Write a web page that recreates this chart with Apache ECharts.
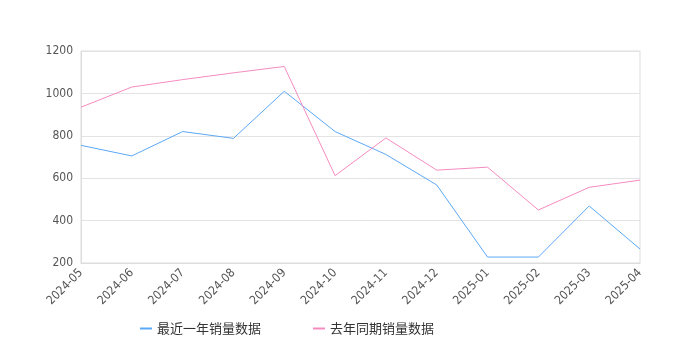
<!DOCTYPE html>
<html>
<head>
<meta charset="utf-8">
<script src="https://cdn.jsdelivr.net/npm/echarts@6/dist/echarts.min.js"></script>
<style>
  html, body { margin: 0; padding: 0; background: #fff; }
  #main { width: 680px; height: 350px; }
</style>
</head>
<body>
<div id="main"></div>
<script>
// 月份
var months = ['2024-05', '2024-06', '2024-07', '2024-08', '2024-09', '2024-10',
	'2024-11', '2024-12', '2025-01', '2025-02', '2025-03', '2025-04'];
// 最近一年销量
var recentSales = [755, 705, 820, 788, 1010, 820, 712, 568, 228, 228, 469, 266];
// 去年同期销量
var lastYearSales = [935, 1030, 1065, 1097, 1127, 612, 790, 638, 652, 450, 557, 591];

var myChart = echarts.init(document.getElementById('main'));
var option;

option = {
	animation: false,
	color: ['#5ba8f7', '#f58bbf'],
	grid: {
		left: 81,
		right: 40,
		top: 51,
		bottom: 87,
		show: true,
		borderColor: '#ddd',
		borderWidth: 1
	},
	legend: {
		bottom: 10,
		left: 135,
		itemGap: 52,
		itemWidth: 12,
		itemHeight: 2,
		icon: 'rect',
		textStyle: {
			color: '#333',
			fontSize: 13,
			fontFamily: 'Noto Sans CJK SC'
		},
		data: ['最近一年销量数据', '去年同期销量数据']
	},
	xAxis: {
		type: 'category',
		boundaryGap: false,
		data: months,
		axisLine: { lineStyle: { color: '#ddd' } },
		axisTick: { show: false },
		axisLabel: {
			rotate: 45,
			color: '#555',
			fontSize: 12,
			fontFamily: 'DejaVu Sans Condensed',
			margin: 8,
			interval: 0
		}
	},
	yAxis: {
		type: 'value',
		min: 200,
		max: 1200,
		interval: 200,
		axisLine: { show: true, lineStyle: { color: '#ddd' } },
		axisTick: { show: false },
		splitLine: { lineStyle: { color: '#e3e3e3' } },
		axisLabel: {
			color: '#555',
			fontSize: 12,
			fontFamily: 'DejaVu Sans Condensed',
			formatter: function (v) { return String(v); }
		}
	},
	series: [
		{
			name: '最近一年销量数据',
			type: 'line',
			data: recentSales,
			symbol: 'none',
			lineStyle: { width: 1 }
		},
		{
			name: '去年同期销量数据',
			type: 'line',
			data: lastYearSales,
			symbol: 'none',
			lineStyle: { width: 1 }
		}
	]
};

option && myChart.setOption(option);
</script>
</body>
</html>
